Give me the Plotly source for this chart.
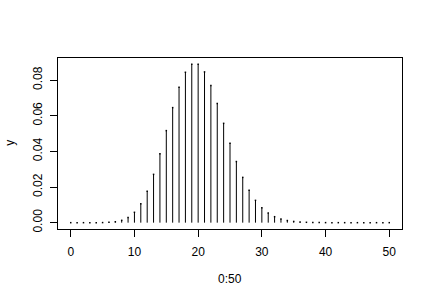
import plotly.graph_objects as go

x_vals = list(range(0, 51))
y_vals = [
    0.0000000021, 0.000000041, 0.00000041, 0.0000027, 0.0000137, 0.0000549,
    0.000183, 0.000523, 0.001309, 0.002908, 0.005816, 0.01057, 0.01762,
    0.02711, 0.03874, 0.05165, 0.06456, 0.07595, 0.08439, 0.08883, 0.08883,
    0.08460, 0.07691, 0.06688, 0.05573, 0.04459, 0.03430, 0.02541, 0.01815,
    0.01252, 0.008344, 0.005383, 0.003364, 0.002039, 0.001199, 0.000685,
    0.000381, 0.000206, 0.000108, 0.0000555, 0.0000278, 0.0000135, 0.0000064,
    0.0000030, 0.0000014, 0.00000061, 0.00000027, 0.00000011, 0.000000047,
    0.000000019, 0.0000000077,
]
x_ticks = [0, 10, 20, 30, 40, 50]
y_ticks = [0.00, 0.02, 0.04, 0.06, 0.08]
y_tick_text = ["0.00", "0.02", "0.04", "0.06", "0.08"]

seg_x, seg_y = [], []
for xv, yv in zip(x_vals, y_vals):
    seg_x += [xv, xv, None]
    seg_y += [0, yv, None]

FONT = "Liberation Sans, Arial, sans-serif"

fig = go.Figure()
fig.add_trace(go.Scatter(x=seg_x, y=seg_y, mode="lines",
                         line=dict(color="black", width=1), hoverinfo="skip"))
fig.add_trace(go.Scatter(x=x_vals, y=y_vals, mode="markers",
                         marker=dict(symbol="square", size=1.5, color="black",
                                     line=dict(width=0))))

L, R, T, B = 58.3, 30.3, 58.3, 73.4
W, H = 432, 302
pw, ph = W - L - R, H - T - B

fig.update_layout(
    width=W, height=H,
    margin=dict(l=L, r=R, t=T, b=B, pad=0),
    plot_bgcolor="white", paper_bgcolor="white",
    showlegend=False,
    font=dict(family=FONT, size=12, color="black"),
    xaxis=dict(range=[-2, 52], tickvals=x_ticks, ticks="outside", ticklen=7,
               tickcolor="black", tickwidth=1, showgrid=False, zeroline=False,
               showline=True, linecolor="black", linewidth=1, mirror=True,
               ticklabelstandoff=5,
               tickfont=dict(size=12, family=FONT, color="black")),
    yaxis=dict(range=[-0.00355, 0.0924], tickvals=y_ticks, ticktext=y_tick_text,
               ticks="outside", ticklen=7, tickangle=-90,
               tickcolor="black", tickwidth=1, showgrid=False, zeroline=False,
               showline=True, linecolor="black", linewidth=1, mirror=True,
               ticklabelstandoff=3,
               tickfont=dict(size=12, family=FONT, color="black")),
    annotations=[
        dict(text="0:50", xref="paper", yref="paper",
             x=(230 - L) / pw, y=-(278 - (T + ph)) / ph,
             xanchor="center", yanchor="middle", showarrow=False,
             font=dict(size=12, family=FONT, color="black")),
        dict(text="y", xref="paper", yref="paper",
             x=(10 - L) / pw, y=1 - (143 - T) / ph, textangle=-90,
             xanchor="center", yanchor="middle", showarrow=False,
             font=dict(size=12, family=FONT, color="black")),
    ],
)

fig.write_html("out.html")
